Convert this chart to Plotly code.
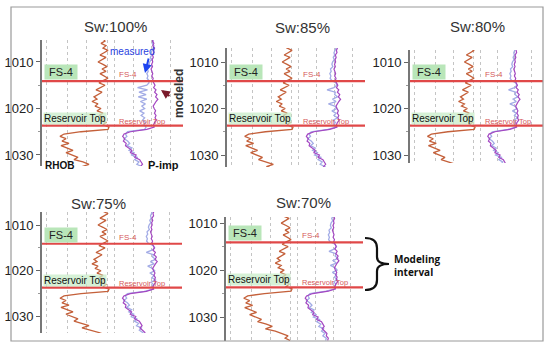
import plotly.graph_objects as go

W, H = 547, 343

# ---------------- data ----------------
depth = [1005.0, 1005.5, 1006.0, 1006.5, 1007.0, 1007.5, 1008.0, 1008.5, 1009.0, 1009.5,
         1010.0, 1010.5, 1011.0, 1011.5, 1012.0, 1012.5, 1013.0, 1013.5, 1014.0, 1014.5,
         1015.0, 1015.5, 1016.0, 1016.5, 1017.0, 1017.5, 1018.0, 1018.5, 1019.0, 1019.5,
         1020.0, 1020.5, 1021.0, 1021.5, 1022.0, 1022.5, 1023.0, 1023.5, 1024.0, 1024.5,
         1025.0, 1025.5, 1026.0, 1026.5, 1027.0, 1027.5, 1028.0, 1028.5, 1029.0, 1029.5,
         1030.0, 1030.5, 1031.0, 1031.5, 1032.0, 1032.5, 1033.0, 1033.5, 1034.0, 1034.5,
         1035.0]

rhob = [2.56, 2.58, 2.54, 2.59, 2.56, 2.61, 2.57, 2.53, 2.59, 2.55,
        2.51, 2.56, 2.60, 2.55, 2.59, 2.53, 2.57, 2.61, 2.56, 2.52,
        2.58, 2.53, 2.49, 2.55, 2.51, 2.47, 2.50, 2.45, 2.51, 2.48,
        2.54, 2.50, 2.56, 2.52, 2.57, 2.54, 2.59, 2.56, 2.62, 2.61,
        2.34, 2.17, 2.13, 2.19, 2.15, 2.22, 2.14, 2.21, 2.26, 2.19,
        2.25, 2.31, 2.27, 2.36, 2.42, 2.35, 2.45, 2.52, 2.58, 2.55,
        2.60]

pimp_measured = [7.90, 7.85, 7.95, 7.87, 8.00, 7.93, 7.97, 7.85, 7.91, 7.83,
                 7.87, 7.79, 7.85, 7.75, 7.81, 7.87, 7.80, 7.90, 7.85, 7.95,
                 8.03, 7.93, 8.10, 8.00, 8.17, 8.07, 8.23, 8.10, 8.00, 7.90,
                 7.97, 8.07, 7.99, 8.10, 8.03, 8.13, 8.00, 7.93, 7.97, 7.45,
                 6.30, 5.85, 5.75, 5.90, 5.80, 6.00, 5.95, 6.15, 6.40, 6.30,
                 6.70, 6.60, 6.95, 7.05, 7.15, 7.00, 7.20, 7.35, 7.30, 7.45,
                 7.40]

# modeled P-imp above the interval (1005.0-1014.0) and below it (1024.5-1035.0)
pimp_model_above = [7.85, 7.90, 7.83, 7.95, 7.90, 7.85, 7.75, 7.80, 7.70, 7.77,
                    7.65, 7.60, 7.67, 7.50, 7.55, 7.45, 7.53, 7.47, 7.60]
pimp_model_below = [7.30, 6.10, 5.95, 6.05, 5.85, 6.10, 6.25, 6.05, 6.40, 6.20,
                    6.55, 6.35, 6.80, 6.60, 6.90, 6.75, 7.10, 6.95, 7.20, 7.05,
                    7.30, 7.25]
# modeled P-imp inside the modeling interval (1014.5-1024.0) for each Sw
model_sw100 = [7.60, 7.45, 6.80, 7.50, 6.90, 7.40, 6.85, 7.45, 7.00, 7.35,
               7.10, 7.30, 6.95, 7.25, 7.05, 7.30, 7.15, 7.35, 7.25, 7.40]
model_sw85 = [7.90, 7.95, 7.75, 7.25, 7.85, 7.80, 8.00, 7.65, 7.90, 7.35,
              7.80, 7.95, 7.60, 7.90, 7.75, 8.00, 7.70, 7.85, 7.75, 7.90]
model_sw80 = [7.90, 8.00, 7.80, 7.35, 7.90, 7.85, 8.05, 7.70, 7.95, 7.45,
              7.85, 8.00, 7.65, 7.95, 7.80, 8.05, 7.75, 7.90, 7.80, 7.90]
model_sw75 = [7.95, 8.05, 7.85, 7.45, 7.95, 7.90, 8.10, 7.75, 8.00, 7.55,
              7.90, 8.05, 7.70, 8.00, 7.85, 8.10, 7.80, 7.95, 7.85, 7.95]
model_sw70 = [7.95, 8.05, 7.90, 7.50, 8.00, 7.95, 8.15, 7.80, 8.05, 7.60,
              7.95, 8.10, 7.75, 8.05, 7.90, 8.10, 7.85, 8.00, 7.90, 7.95]

sw_titles = ["Sw:100%", "Sw:85%", "Sw:80%", "Sw:75%", "Sw:70%"]
sw_models = [model_sw100, model_sw85, model_sw80, model_sw75, model_sw70]
depth_ticks = [1010, 1020, 1030]
fs4_depth = 1014.1
res_top_depth = 1023.7

# ---------------- layout geometry (pixels) ----------------
panels = [
    dict(x0=42, xm=112, x1=183, ytop=40, ybot=166, dtop=1005.27, dbot=1032.37, tx=116, ty=27),
    dict(x0=227, xm=296, x1=365, ytop=48, ybot=167, dtop=1006.99, dbot=1032.58, tx=302, ty=28),
    dict(x0=410, xm=478, x1=543, ytop=50, ybot=163, dtop=1007.42, dbot=1031.72, tx=478, ty=27),
    dict(x0=42, xm=112, x1=182, ytop=212, ybot=333, dtop=1007.16, dbot=1033.6, tx=98, ty=203),
    dict(x0=226, xm=295, x1=363, ytop=217, ybot=341, dtop=1008.7, dbot=1035.1, tx=303, ty=202),
]

RHOB_RANGE = [1.95, 2.65]
PIMP_RANGE = [5.0, 10.0]
SANS = "Liberation Sans, Arial"
C_RHOB = "#c4603a"
C_MEAS = "#a447c2"
C_MOD = "#a3ace6"
C_RED = "#e04848"
C_GRID = "#c4c4c4"


def px(x):
    return x / W


def py(y):
    return 1 - y / H


def frac(rng, f):
    return rng[0] + f * (rng[1] - rng[0])


fig = go.Figure()
layout = {}
shapes = []
annotations = []

for i, (p, title, model_mid) in enumerate(zip(panels, sw_titles, sw_models)):
    n = i + 1
    xa_r, xa_p = 2 * n - 1, 2 * n
    xr_name = "x" if xa_r == 1 else f"x{xa_r}"
    xp_name = f"x{xa_p}"
    y_name = "y" if n == 1 else f"y{n}"
    modeled = pimp_model_above + model_mid + pimp_model_below

    fig.add_trace(go.Scatter(x=rhob, y=depth, mode="lines", xaxis=xr_name, yaxis=y_name,
                             line=dict(color=C_RHOB, width=1.3), showlegend=False, hoverinfo="skip"))
    fig.add_trace(go.Scatter(x=modeled, y=depth, mode="lines", xaxis=xp_name, yaxis=y_name,
                             line=dict(color=C_MOD, width=1.3), showlegend=False, hoverinfo="skip"))
    fig.add_trace(go.Scatter(x=pimp_measured, y=depth, mode="lines", xaxis=xp_name, yaxis=y_name,
                             line=dict(color=C_MEAS, width=1.2), showlegend=False, hoverinfo="skip"))

    grid_common = dict(showticklabels=False, ticks="", showgrid=True, gridcolor=C_GRID,
                       griddash="dot", gridwidth=1, zeroline=False, showline=False,
                       anchor=y_name, fixedrange=True)
    layout["xaxis" if xa_r == 1 else f"xaxis{xa_r}"] = dict(
        domain=[px(p["x0"]), px(p["xm"])], range=RHOB_RANGE,
        tickvals=[frac(RHOB_RANGE, f) for f in (0.07, 0.37, 0.64, 0.93)], **grid_common)
    layout[f"xaxis{xa_p}"] = dict(
        domain=[px(p["xm"]), px(p["x1"])], range=PIMP_RANGE,
        tickvals=[frac(PIMP_RANGE, f) for f in (0.04, 0.3, 0.56, 0.82, 0.995)], **grid_common)
    layout["yaxis" if n == 1 else f"yaxis{n}"] = dict(
        domain=[py(p["ybot"]), py(p["ytop"])], range=[p["dbot"], p["dtop"]],
        anchor=xr_name, tickvals=depth_ticks, ticks="outside", ticklen=4, tickcolor="#666",
        showline=True, linecolor="#777", linewidth=1.8, showgrid=False, zeroline=False,
        tickfont=dict(family=SANS, size=13, color="#222"),
        minor=dict(tickvals=[1015, 1025], ticks="outside", ticklen=2, tickcolor="#999"),
        fixedrange=True)

    # formation tops
    for d in (fs4_depth, res_top_depth):
        shapes.append(dict(type="line", xref="paper", yref=y_name,
                           x0=px(p["x0"]), x1=px(p["x1"]), y0=d, y1=d,
                           line=dict(color=C_RED, width=2.2)))

    annotations.append(dict(text="FS-4", xref="paper", yref=y_name, x=px(p["x0"] + 2), y=fs4_depth,
                            xanchor="left", yanchor="bottom", yshift=1, showarrow=False,
                            bgcolor="#b9e6b9", width=30, height=12, borderpad=1,
                            font=dict(family=SANS, size=11, color="#222")))
    annotations.append(dict(text="Reservoir Top", xref="paper", yref=y_name, x=px(p["x0"] + 1),
                            y=res_top_depth, xanchor="left", yanchor="bottom", yshift=1,
                            showarrow=False, bgcolor="rgba(200,236,200,0.75)", borderpad=0,
                            font=dict(family=SANS, size=10, color="#111")))
    annotations.append(dict(text="FS-4", xref="paper", yref=y_name, x=px(p["xm"] + 5), y=fs4_depth,
                            xanchor="left", yanchor="bottom", yshift=0, showarrow=False,
                            font=dict(family=SANS, size=8, color="#d65a5a")))
    annotations.append(dict(text="Reservoir Top", xref="paper", yref=y_name, x=px(p["xm"] + 5),
                            y=res_top_depth, xanchor="left", yanchor="bottom", yshift=-2,
                            showarrow=False, font=dict(family=SANS, size=7.5, color="#d65a5a")))
    annotations.append(dict(text=title, xref="paper", yref="paper", x=px(p["tx"]), y=py(p["ty"]),
                            xanchor="center", yanchor="middle", showarrow=False,
                            font=dict(family=SANS, size=15, color="#333")))

# panel-1 callouts
annotations += [
    dict(text="measured", xref="paper", yref="paper", x=px(132), y=py(51), showarrow=False,
         xanchor="center", yanchor="middle", font=dict(family=SANS, size=10, color="#2a3fe0")),
    dict(text="", xref="paper", yref="paper", x=px(145), y=py(73), ax=4, ay=-16,
         axref="pixel", ayref="pixel", showarrow=True, arrowhead=2, arrowsize=0.9, arrowwidth=2,
         arrowcolor="#1f45f0"),
    dict(text="modeled", xref="paper", yref="paper", x=px(179), y=py(94), textangle=-90,
         showarrow=False, xanchor="center", yanchor="middle",
         font=dict(family=SANS, size=12, color="#333", weight="bold")),
    dict(text="", xref="paper", yref="paper", x=px(161), y=py(90), ax=10, ay=7,
         axref="pixel", ayref="pixel", showarrow=True, arrowhead=2, arrowsize=0.9, arrowwidth=2,
         arrowcolor="#7a1a2a"),
    dict(text="<b>RHOB</b>", xref="paper", yref="paper", x=px(43), y=py(165), showarrow=False,
         xanchor="left", yanchor="middle", font=dict(family=SANS, size=10, color="#111")),
    dict(text="<b>P-imp</b>", xref="paper", yref="paper", x=px(146), y=py(165), showarrow=False,
         xanchor="left", yanchor="middle", font=dict(family=SANS, size=11, color="#111")),
    dict(text="<b>Modeling<br>interval</b>", xref="paper", yref="paper", x=px(392), y=py(265),
         showarrow=False, xanchor="left", yanchor="middle", align="left",
         font=dict(family="Open Sans, Liberation Sans", size=10, color="#111")),
]


def pt(x, y):
    return f"{px(x):.5f},{py(y):.5f}"


brace = ("M " + pt(365, 238) + " Q " + pt(377, 238) + " " + pt(377, 248) +
         " L " + pt(377, 257) + " Q " + pt(377, 264) + " " + pt(389, 264) +
         " Q " + pt(377, 264) + " " + pt(377, 271) + " L " + pt(377, 280) +
         " Q " + pt(377, 290) + " " + pt(365, 290))
shapes.append(dict(type="path", xref="paper", yref="paper", path=brace,
                   line=dict(color="#111", width=2.2)))
shapes.append(dict(type="rect", xref="paper", yref="paper", x0=px(11), x1=px(543),
                   y0=py(341), y1=py(7), line=dict(color="#9a9a9a", width=1.2)))

fig.update_layout(width=W, height=H, margin=dict(l=0, r=0, t=0, b=0),
                  paper_bgcolor="white", plot_bgcolor="white",
                  shapes=shapes, annotations=annotations, showlegend=False, **layout)

fig.write_html("out.html", config={"displayModeBar": False})
